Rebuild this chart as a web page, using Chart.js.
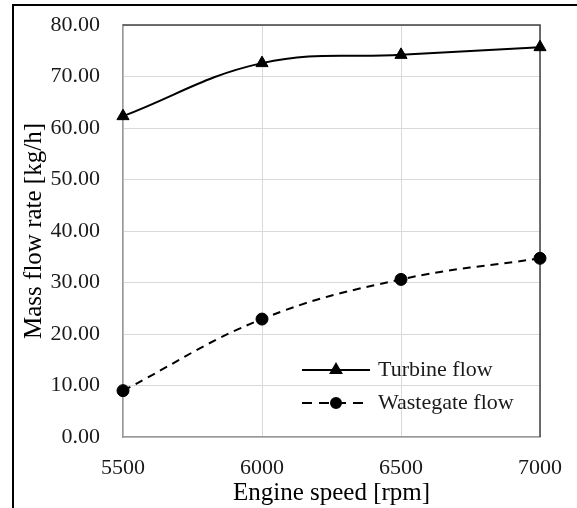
<!DOCTYPE html>
<html>
<head>
<meta charset="utf-8">
<script src="https://cdn.jsdelivr.net/npm/chart.js@4/dist/chart.umd.min.js"></script>
<style>
  html, body { margin: 0; padding: 0; background: #fff; }
  #wrap { width: 577px; height: 508px; }
</style>
</head>
<body>
<div id="wrap"><canvas id="chart" width="577" height="508"></canvas></div>
<script>
const speeds = [5500, 6000, 6500, 7000];
const turbineFlow = [62.3, 72.6, 74.2, 75.7];
const wastegateFlow = [9.0, 22.9, 30.6, 34.7];
const seriesNames = ["Turbine flow", "Wastegate flow"];

const serif = "'Liberation Serif', 'Times New Roman', serif";

// frame round the figure, top/right plot border and the in-plot legend
const decorations = {
  id: "decorations",
  beforeDatasetsDraw(chart) {
    const { ctx, chartArea: a } = chart;
    ctx.save();
    ctx.strokeStyle = "#404040";
    ctx.lineWidth = 1.5;
    ctx.beginPath();
    ctx.moveTo(a.left, a.top);
    ctx.lineTo(a.right, a.top);
    ctx.lineTo(a.right, a.bottom);
    ctx.stroke();
    ctx.restore();
  },
  afterDraw(chart) {
    const { ctx, chartArea: a } = chart;
    ctx.save();
    ctx.strokeStyle = "#000";
    ctx.lineWidth = 2;
    ctx.beginPath();
    ctx.moveTo(13, chart.height);
    ctx.lineTo(13, 5);
    ctx.lineTo(chart.width, 5);
    ctx.stroke();

    const x0 = a.left + 179, x1 = a.left + 247;
    const rows = [a.bottom - 67, a.bottom - 34];
    chart.data.datasets.forEach((ds, i) => {
      const y = rows[i];
      ctx.strokeStyle = "#000";
      ctx.lineWidth = 2;
      ctx.setLineDash(i ? [10, 7] : []);
      ctx.beginPath();
      ctx.moveTo(x0, y);
      ctx.lineTo(x1, y);
      ctx.stroke();
      ctx.setLineDash([]);
      Chart.helpers.drawPoint(ctx, {
        pointStyle: ds.pointStyle,
        radius: ds.pointRadius - 1,
        borderWidth: 1,
        rotation: 0
      }, (x0 + x1) / 2, y);
      ctx.fillStyle = "#000";
      ctx.fill();
      ctx.font = "22px " + serif;
      ctx.fillStyle = "#1a1a1a";
      ctx.textAlign = "left";
      ctx.textBaseline = "middle";
      ctx.fillText(ds.label, x1 + 8, y);
    });
    ctx.restore();
  }
};

new Chart(document.getElementById("chart").getContext("2d"), {
  type: "line",
  data: {
    datasets: [
      {
        label: seriesNames[0],
        data: speeds.map((s, i) => ({ x: s, y: turbineFlow[i] })),
        borderColor: "#000",
        backgroundColor: "#000",
        borderWidth: 2,
        pointStyle: "triangle",
        pointRadius: 7,
        pointBorderWidth: 1,
        tension: 0.4,
        clip: false
      },
      {
        label: seriesNames[1],
        data: speeds.map((s, i) => ({ x: s, y: wastegateFlow[i] })),
        borderColor: "#000",
        backgroundColor: "#000",
        borderWidth: 2,
        borderDash: [8, 6],
        pointStyle: "circle",
        pointRadius: 6,
        pointBorderWidth: 1,
        tension: 0.4,
        clip: false
      }
    ]
  },
  options: {
    responsive: false,
    animation: false,
    layout: { padding: { left: 13, top: 25, right: 37, bottom: 0 } },
    plugins: {
      legend: { display: false },
      tooltip: { enabled: false }
    },
    scales: {
      x: {
        type: "linear",
        min: 5500,
        max: 7000,
        afterFit: (scale) => {
          scale.height = 71;
          scale.paddingLeft = 0;
          scale.paddingRight = 0;
        },
        ticks: {
          stepSize: 500,
          padding: 18,
          color: "#1a1a1a",
          font: { family: serif, size: 22 },
          callback: (v) => String(v)
        },
        grid: { color: "#d9d9d9", lineWidth: 1, drawTicks: false },
        border: { color: "#999", width: 1.5 },
        title: {
          display: true,
          text: "Engine speed [rpm]",
          color: "#000",
          font: { family: serif, size: 25 },
          padding: { top: 0, bottom: 0 }
        }
      },
      y: {
        min: 0,
        max: 80,
        afterFit: (scale) => {
          scale.width = 110;
          scale.paddingTop = 0;
          scale.paddingBottom = 0;
        },
        ticks: {
          stepSize: 10,
          padding: 23,
          color: "#1a1a1a",
          font: { family: serif, size: 22 },
          callback: (v) => v.toFixed(2)
        },
        grid: { color: "#d9d9d9", lineWidth: 1, drawTicks: false },
        border: { color: "#999", width: 1.5 },
        title: {
          display: true,
          text: "Mass flow rate [kg/h]",
          color: "#000",
          font: { family: serif, size: 25 },
          padding: { top: 6, bottom: 0 }
        }
      }
    }
  },
  plugins: [decorations]
});
</script>
</body>
</html>
